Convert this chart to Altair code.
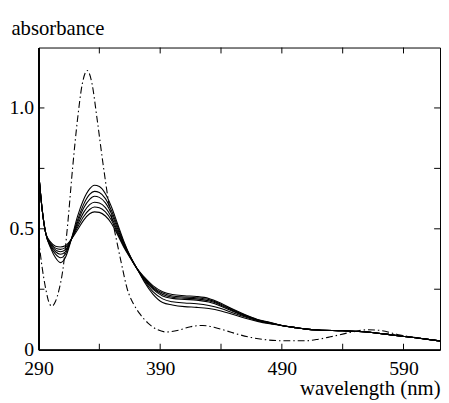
import altair as alt
import pandas as pd

# wavelength grid for the six solid spectra
wl_solid = [290, 293, 296, 300, 304, 308, 312, 317, 322, 327, 332, 336, 340, 345, 350,
            355, 360, 366, 371, 377, 384, 392, 400, 410, 420, 430, 440, 450, 460, 470,
            480, 490, 500, 510, 520, 540, 560, 580, 600, 620]
tail = [0.092, 0.085, 0.081, 0.078, 0.073, 0.061, 0.049, 0.036]

c1 = [0.74, 0.58, 0.48, 0.42, 0.38, 0.36, 0.38, 0.457, 0.55, 0.62, 0.665, 0.68, 0.675, 0.645, 0.59,
      0.52, 0.45, 0.38, 0.335, 0.28, 0.23, 0.195, 0.185, 0.178, 0.175, 0.17, 0.16, 0.145, 0.13, 0.117,
      0.107, 0.099] + tail
c2 = [0.74, 0.58, 0.48, 0.425, 0.395, 0.38, 0.395, 0.457, 0.535, 0.6, 0.642, 0.655, 0.65, 0.625, 0.575,
      0.51, 0.445, 0.38, 0.335, 0.285, 0.24, 0.21, 0.198, 0.193, 0.19, 0.183, 0.17, 0.152, 0.135, 0.12,
      0.109, 0.1] + tail
c3 = [0.74, 0.58, 0.48, 0.43, 0.405, 0.395, 0.405, 0.457, 0.525, 0.585, 0.622, 0.635, 0.63, 0.607, 0.562,
      0.5, 0.44, 0.378, 0.335, 0.29, 0.25, 0.222, 0.212, 0.208, 0.205, 0.197, 0.18, 0.158, 0.138, 0.122,
      0.11, 0.1] + tail
c4 = [0.74, 0.58, 0.48, 0.435, 0.413, 0.405, 0.413, 0.457, 0.515, 0.567, 0.6, 0.61, 0.607, 0.588, 0.548,
      0.49, 0.435, 0.377, 0.335, 0.293, 0.255, 0.228, 0.217, 0.213, 0.21, 0.202, 0.184, 0.161, 0.14, 0.123,
      0.111, 0.1] + tail
c5 = [0.74, 0.58, 0.48, 0.44, 0.42, 0.415, 0.422, 0.457, 0.505, 0.55, 0.58, 0.59, 0.587, 0.57, 0.535,
      0.482, 0.43, 0.376, 0.335, 0.296, 0.26, 0.234, 0.222, 0.218, 0.215, 0.207, 0.188, 0.164, 0.142, 0.124,
      0.112, 0.1] + tail
c6 = [0.74, 0.58, 0.48, 0.445, 0.428, 0.425, 0.43, 0.457, 0.495, 0.535, 0.562, 0.57, 0.568, 0.553, 0.522,
      0.475, 0.425, 0.375, 0.335, 0.3, 0.265, 0.24, 0.228, 0.223, 0.22, 0.212, 0.192, 0.167, 0.144, 0.125,
      0.113, 0.1] + tail

# dash-dot reference spectrum
wl_dash = [290, 293, 296, 299, 301, 304, 307, 310, 314, 318, 322, 326, 330, 334, 338, 343, 348, 353,
           358, 363, 368, 373, 380, 388, 395, 405, 415, 425, 435, 445, 455, 465, 475, 490, 510, 520,
           530, 545, 560, 570, 585, 600, 613, 620]
dash = [0.46, 0.34, 0.25, 0.19, 0.18, 0.2, 0.25, 0.33, 0.52, 0.75, 0.95, 1.1, 1.155, 1.1, 0.96, 0.77,
        0.6, 0.48, 0.36, 0.25, 0.19, 0.15, 0.11, 0.082, 0.073, 0.08, 0.095, 0.1, 0.092, 0.077, 0.062,
        0.05, 0.042, 0.037, 0.037, 0.043, 0.053, 0.07, 0.082, 0.08, 0.063, 0.05, 0.041, 0.037]

x_labels = [290, 390, 490, 590]
x_ticks = [340, 390, 440, 490, 540, 590]
y_labels = [0, 0.5, 1.0]
y_ticks = [0.25, 0.5, 0.75, 1.0]

rows = []
for name, vals in [("c1", c1), ("c2", c2), ("c3", c3), ("c4", c4), ("c5", c5), ("c6", c6)]:
    for w, v in zip(wl_solid, vals):
        rows.append({"wl": w, "a": v, "s": name})
solid_df = pd.DataFrame(rows)
dash_df = pd.DataFrame({"wl": wl_dash, "a": dash})
xt_df = pd.DataFrame({"t": x_ticks})
yt_df = pd.DataFrame({"t": y_ticks})

W, H = 408, 307
FONT = "Liberation Serif"
LFS = 20
TFS = 21

xscale = alt.Scale(domain=[290, 620], nice=False, zero=False)
yscale = alt.Scale(domain=[0, 1.25], nice=False)

xaxis = alt.Axis(values=x_labels, ticks=False, tickSize=0, grid=False, domain=True,
                 domainColor="black", domainWidth=2, labelPadding=9, labelFontSize=LFS,
                 labelFont=FONT, labelColor="black", labelFlush=False,
                 title="wavelength (nm)", titleFont=FONT, titleFontSize=TFS,
                 titleFontWeight="normal", titleColor="black", titleX=W, titleY=46,
                 titleAlign="right", titleBaseline="alphabetic")
yaxis = alt.Axis(values=y_labels, ticks=False, tickSize=0, grid=False, domain=True,
                 domainColor="black", domainWidth=2, labelPadding=5, labelFontSize=LFS,
                 labelFont=FONT, labelColor="black", labelFlush=False,
                 labelExpr="datum.value == 0 ? '0' : format(datum.value, '.1f')",
                 title="absorbance", titleFont=FONT, titleFontSize=TFS, titleFontWeight="normal",
                 titleColor="black", titleAngle=0, titleX=-28, titleY=-13, titleAlign="left",
                 titleBaseline="alphabetic")

solid = alt.Chart(solid_df).mark_line(color="black", strokeWidth=1.1, interpolate="monotone").encode(
    x=alt.X("wl:Q", scale=xscale, axis=xaxis),
    y=alt.Y("a:Q", scale=yscale, axis=yaxis),
    detail="s:N",
)
dashed = alt.Chart(dash_df).mark_line(color="black", strokeWidth=1.1, interpolate="monotone",
                                      strokeDash=[7, 3, 1.5, 3]).encode(
    x=alt.X("wl:Q", scale=xscale),
    y=alt.Y("a:Q", scale=yscale),
)
xt_bottom = alt.Chart(xt_df).mark_rule(color="black", strokeWidth=1).encode(
    x=alt.X("t:Q", scale=xscale), y=alt.value(H), y2=alt.value(H - 6))
xt_top = alt.Chart(xt_df).mark_rule(color="black", strokeWidth=1).encode(
    x=alt.X("t:Q", scale=xscale), y=alt.value(0), y2=alt.value(6))
yt_left = alt.Chart(yt_df).mark_rule(color="black", strokeWidth=1).encode(
    y=alt.Y("t:Q", scale=yscale), x=alt.value(0), x2=alt.value(6))
yt_right = alt.Chart(yt_df).mark_rule(color="black", strokeWidth=1).encode(
    y=alt.Y("t:Q", scale=yscale), x=alt.value(W), x2=alt.value(W - 6))

chart = alt.layer(solid, dashed, xt_bottom, xt_top, yt_left, yt_right).properties(
    width=W, height=H,
    padding={"left": 31, "top": 37, "right": 1, "bottom": 48},
    autosize=alt.AutoSizeParams(type="none"),
).configure(
    font=FONT, background="white"
).configure_axis(
    labelFont=FONT, titleFont=FONT
).configure_view(stroke="black", strokeWidth=1)

chart.save("out.html", embed_options={"renderer": "svg", "actions": False})
